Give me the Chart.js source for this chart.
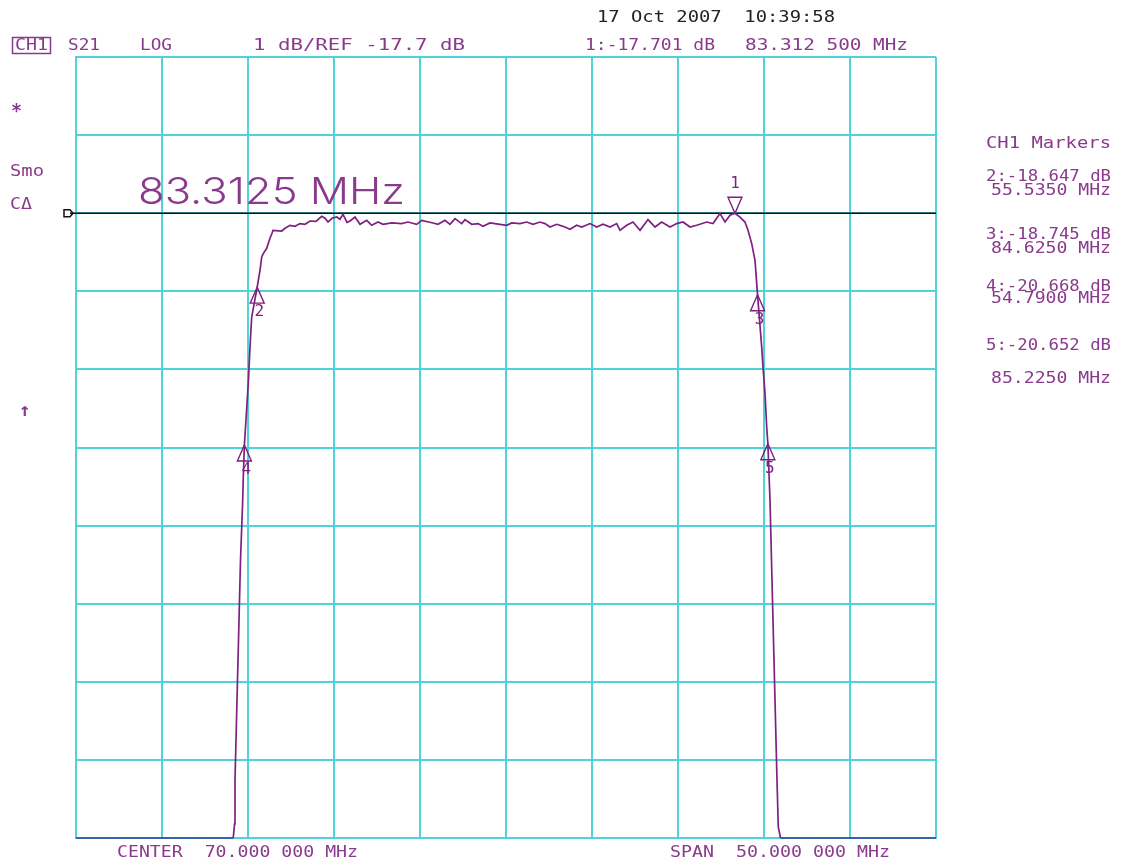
<!DOCTYPE html>
<html>
<head>
<meta charset="utf-8">
<script src="https://cdn.jsdelivr.net/npm/chart.js@4.4.0/dist/chart.umd.min.js"></script>
<style>
  html, body { margin: 0; padding: 0; background: #fff; }
  canvas { display: block; }
</style>
</head>
<body>
<canvas id="s21" width="1123" height="865"></canvas>
<script>
// S21 trace, CH1, LOG format
const freqMHz = [
  45.000, 54.140, 54.221, 54.244, 54.331, 54.448, 54.564, 54.692, 54.727, 54.790,
  55.017, 55.116, 55.215, 55.535, 55.698, 55.797, 55.890, 56.087, 56.279, 56.395,
  56.453, 56.959, 57.151, 57.442, 57.733, 58.023, 58.314, 58.605, 58.953, 59.285,
  59.477, 59.651, 59.884, 60.157, 60.349, 60.523, 60.756, 60.930, 61.221, 61.512,
  61.901, 62.192, 62.558, 62.849, 63.355, 63.936, 64.302, 64.808, 65.099, 65.756,
  66.047, 66.453, 66.744, 67.035, 67.424, 67.616, 68.006, 68.372, 68.663, 69.070,
  69.651, 70.041, 70.331, 70.814, 71.203, 71.570, 71.977, 72.267, 72.558, 72.948,
  73.314, 73.721, 74.110, 74.401, 74.884, 75.273, 75.640, 76.047, 76.436, 76.628,
  77.017, 77.384, 77.791, 78.256, 78.663, 79.052, 79.535, 79.924, 80.291, 80.698,
  81.087, 81.669, 82.035, 82.442, 82.733, 83.023, 83.3125, 83.605, 83.895, 84.070,
  84.285, 84.477, 84.625, 84.866, 84.942, 85.058, 85.157, 85.225, 85.349, 85.494,
  85.640, 85.756, 85.831, 85.959, 95.000
]
const s21dB = [
  -25.700, -25.700, -25.519, -24.961, -24.193, -23.169, -22.144, -21.376, -21.082, -20.668,
  -19.878, -19.413, -19.029, -18.647, -18.431, -18.261, -18.217, -18.149, -18.021, -17.957,
  -17.919, -17.928, -17.893, -17.855, -17.868, -17.833, -17.842, -17.800, -17.804, -17.740,
  -17.765, -17.813, -17.765, -17.749, -17.778, -17.714, -17.817, -17.800, -17.749, -17.842,
  -17.791, -17.855, -17.813, -17.842, -17.825, -17.833, -17.813, -17.842, -17.791, -17.825,
  -17.842, -17.791, -17.842, -17.769, -17.833, -17.782, -17.842, -17.833, -17.868, -17.825,
  -17.842, -17.855, -17.825, -17.833, -17.813, -17.842, -17.813, -17.833, -17.877, -17.842,
  -17.868, -17.906, -17.855, -17.877, -17.833, -17.877, -17.842, -17.877, -17.833, -17.919,
  -17.855, -17.813, -17.919, -17.782, -17.877, -17.813, -17.877, -17.833, -17.813, -17.877,
  -17.855, -17.813, -17.833, -17.705, -17.813, -17.727, -17.701, -17.749, -17.813, -17.919,
  -18.089, -18.303, -18.745, -19.413, -19.669, -20.006, -20.438, -20.652, -21.376, -22.656,
  -23.937, -24.961, -25.559, -25.700, -25.700
]

// markers 1..5
const markerNames = ["1", "2", "3", "4", "5"]
const markerFreq = [83.3125, 55.535, 84.625, 54.79, 85.225]
const markerDb = [-17.701, -18.647, -18.745, -20.668, -20.652]

// display settings
const centerMHz = 70
const spanMHz = 50
const refDb = -17.7
const dbPerDiv = 1
const refDiv = 8 // reference line position, divisions from bottom
const divisions = 10

const yMin = refDb - refDiv * dbPerDiv
const yMax = refDb + (divisions - refDiv) * dbPerDiv

const TRACE = "#7e2080"
const TEXT = "#8a3a8c"
const GRID = "#4fd2d8"

function drawText(ctx, text, x, y, w, font, color) {
  ctx.save()
  ctx.font = font
  ctx.fillStyle = color
  ctx.textBaseline = "alphabetic"
  const m = ctx.measureText(text).width
  ctx.translate(x, y)
  if (w) ctx.scale(w / m, 1)
  ctx.fillText(text, 0, 0)
  ctx.restore()
}

const MONO = "16px 'DejaVu Sans Mono', monospace"

// annotation text around the graticule: [text, x, baseline, width, colour]
const annotations = [
  ["17 Oct 2007  10:39:58", 597, 22, 238, "#222"],
  ["CH1", 15, 50, 33, TEXT],
  ["S21", 68, 50, 32, TEXT],
  ["LOG", 140, 50, 32, TEXT],
  ["1 dB/REF -17.7 dB", 253, 50, 212, TEXT],
  ["1:-17.701 dB", 585, 50, 130, TEXT],
  ["83.312 500 MHz", 745, 50, 163, TEXT],
  ["Smo", 10, 176, 34, TEXT],
  ["C\u0394", 10, 209, 22, TEXT],
  ["CH1 Markers", 986, 148, 125, TEXT],
  ["2:-18.647 dB", 986, 181, 125, TEXT],
  ["55.5350 MHz", 991, 195, 120, TEXT],
  ["3:-18.745 dB", 986, 239, 125, TEXT],
  ["84.6250 MHz", 991, 253, 120, TEXT],
  ["4:-20.668 dB", 986, 291, 125, TEXT],
  ["54.7900 MHz", 991, 303, 120, TEXT],
  ["5:-20.652 dB", 986, 350, 125, TEXT],
  ["85.2250 MHz", 991, 383, 120, TEXT],
  ["CENTER  70.000 000 MHz", 117, 857, 241, TEXT],
  ["SPAN  50.000 000 MHz", 670, 857, 220, TEXT]
]

const analyzerOverlay = {
  id: "analyzerOverlay",
  beforeDatasetsDraw(chart) {
    const { ctx, chartArea, scales } = chart
    const yRef = scales.y.getPixelForValue(refDb)
    ctx.save()
    ctx.strokeStyle = "#111"
    ctx.lineWidth = 1.5
    ctx.beginPath()
    ctx.moveTo(chartArea.left - 6, yRef)
    ctx.lineTo(chartArea.right, yRef)
    ctx.stroke()
    // reference position pointer
    const x0 = chartArea.left - 12
    ctx.beginPath()
    ctx.moveTo(x0, yRef - 3.5)
    ctx.lineTo(x0 + 6, yRef - 3.5)
    ctx.lineTo(x0 + 9, yRef)
    ctx.lineTo(x0 + 6, yRef + 3.5)
    ctx.lineTo(x0, yRef + 3.5)
    ctx.closePath()
    ctx.stroke()
    ctx.restore()
  },
  afterDatasetsDraw(chart) {
    const { ctx, scales } = chart
    ctx.save()
    ctx.strokeStyle = TRACE
    ctx.lineWidth = 1.4
    markerNames.forEach((name, i) => {
      const x = scales.x.getPixelForValue(markerFreq[i])
      const y = scales.y.getPixelForValue(markerDb[i])
      const dir = i === 0 ? -1 : 1
      ctx.beginPath()
      ctx.moveTo(x, y)
      ctx.lineTo(x - 7, y + dir * 16)
      ctx.lineTo(x + 7, y + dir * 16)
      ctx.closePath()
      ctx.stroke()
      ctx.font = "16px 'DejaVu Sans Mono', monospace"
      ctx.fillStyle = TRACE
      ctx.textAlign = "center"
      ctx.textBaseline = "middle"
      ctx.fillText(name, x + (i === 0 ? 0 : 2), y + dir * (i === 0 ? 29 : 25))
    })
    ctx.restore()
  },
  afterDraw(chart) {
    const { ctx, scales } = chart
    annotations.forEach(([t, x, y, w, c]) => drawText(ctx, t, x, y, w, MONO, c))
    drawText(ctx, "*", 11, 117, 11, "bold 20px 'DejaVu Sans Mono', monospace", TEXT)
    drawText(ctx, "\u2191", 19, 416, 12, "bold 18px 'DejaVu Sans Mono', monospace", TEXT)
    // channel box
    ctx.save()
    ctx.strokeStyle = TEXT
    ctx.lineWidth = 1.5
    ctx.strokeRect(12.5, 37.5, 38, 16)
    ctx.restore()
    // active marker frequency readout
    const yRef = scales.y.getPixelForValue(refDb)
    drawText(ctx, markerFreq[0].toFixed(4) + " MHz", 138, yRef - 9, 267, "300 37px Inter, 'DejaVu Sans', sans-serif", TEXT)
  }
}

const points = freqMHz.map((f, i) => ({ x: f, y: s21dB[i] }))

new Chart(document.getElementById("s21"), {
  type: "line",
  data: {
    datasets: [{
      label: "S21",
      data: points,
      borderColor: TRACE,
      borderWidth: 1.7,
      pointRadius: 0,
      tension: 0,
      clip: 4,
      segment: {
        // clipped trace along the bottom edge
        borderColor: (c) => (c.p0.parsed.y <= yMin && c.p1.parsed.y <= yMin ? "#2c3c9c" : TRACE)
      }
    }]
  },
  options: {
    responsive: false,
    animation: false,
    layout: { padding: { left: 76, top: 57, right: 187, bottom: 27 } },
    plugins: { legend: { display: false }, tooltip: { enabled: false } },
    scales: {
      x: {
        type: "linear",
        min: centerMHz - spanMHz / 2,
        max: centerMHz + spanMHz / 2,
        ticks: { display: false, stepSize: spanMHz / divisions },
        grid: { color: GRID, lineWidth: 2, drawTicks: false },
        border: { display: true, color: GRID, width: 2 }
      },
      y: {
        type: "linear",
        min: yMin,
        max: yMax,
        afterBuildTicks(scale) {
          const ticks = []
          for (let k = 0; k <= divisions; k++) ticks.push({ value: yMin + k * dbPerDiv })
          scale.ticks = ticks
        },
        ticks: { display: false },
        grid: { color: GRID, lineWidth: 2, drawTicks: false },
        border: { display: true, color: GRID, width: 2 }
      }
    }
  },
  plugins: [analyzerOverlay]
})
</script>
</body>
</html>
